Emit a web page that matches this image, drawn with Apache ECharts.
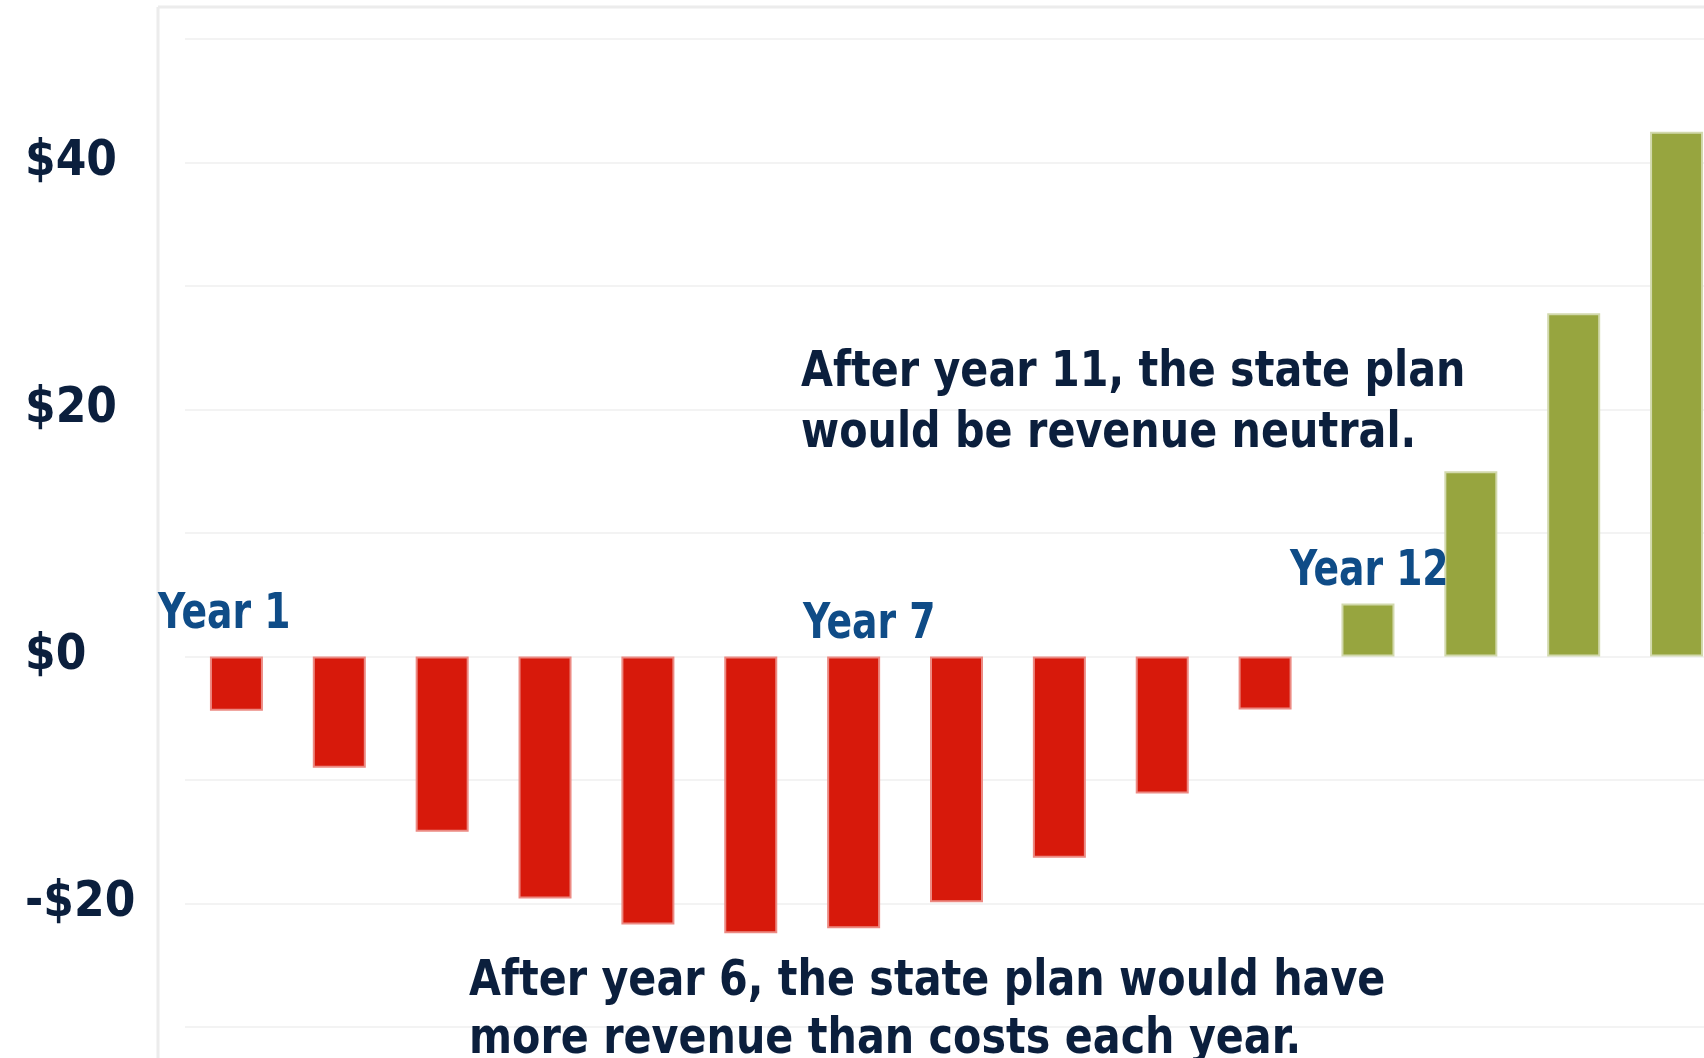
<!DOCTYPE html>
<html>
<head>
<meta charset="utf-8">
<script src="https://cdn.jsdelivr.net/npm/echarts@6/dist/echarts.min.js"></script>
<style>
html,body{margin:0;padding:0;background:#fff;}
#chart{width:1704px;height:1058px;}
</style>
</head>
<body>
<div id="chart"></div>
<script>
const categories = ['Year 1','Year 2','Year 3','Year 4','Year 5','Year 6','Year 7','Year 8','Year 9','Year 10','Year 11','Year 12','Year 13','Year 14','Year 15'];
const netValues = [-4.4, -9.0, -14.2, -19.6, -21.7, -22.4, -22.0, -19.9, -16.3, -11.1, -4.3, 4.3, 15.0, 27.8, 42.5];
const yTickLabels = {'40':'$40','20':'$20','0':'$0','-20':'-$20'};
const annotationNeutral = ['After year 11, the state plan','would be revenue neutral.'];
const annotationRevenue = ['After year 6, the state plan would have','more revenue than costs each year.'];
const yearMarks = ['Year 1','Year 7','Year 12'];

const FONT = '"DejaVu Sans Condensed", "DejaVu Sans", sans-serif';
const NAVY = '#0b1f3d';
const BLUE = '#0f4c87';
const RED = '#d7190b';
const GREEN = '#97a53f';

const chart = echarts.init(document.getElementById('chart'), null, {renderer:'canvas'});

function txt(x, yBase, s, color, size, scaleX) {
  return {
    type:'text', x:x, y:yBase - 0.3*size, scaleX: scaleX || 1, originX: 0,
    style:{text:s, fill:color, font:'bold '+size+'px '+FONT, textAlign:'left', textVerticalAlign:'middle'},
    z:10
  };
}

const barData = netValues.map(function(v){
  return {
    value:v,
    itemStyle:{
      color: v < 0 ? RED : GREEN,
      borderColor: v < 0 ? '#ec8a83' : '#d2d9ad',
      borderWidth: 2
    }
  };
});

chart.setOption({
  backgroundColor:'#ffffff',
  animation:false,
  grid:{left:185, top:39, width:1543, height:988, containLabel:false, outerBoundsMode:'none'},
  xAxis:{
    type:'category', data:categories,
    axisLine:{show:false}, axisTick:{show:false}, axisLabel:{show:false}, splitLine:{show:false}
  },
  yAxis:{
    type:'value', min:-30, max:50, interval:10,
    axisLine:{show:false}, axisTick:{show:false},
    splitLine:{show:true, lineStyle:{color:'#f3f3f3', width:2}},
    axisLabel:{
      show:true, align:'left', margin:160, padding:[0,0,8,0],
      fontFamily:FONT, fontWeight:'bold', fontSize:49, color:NAVY,
      formatter:function(v){ return yTickLabels[String(v)] || ''; }
    }
  },
  series:[{
    type:'bar', data:barData, barWidth:53,
    label:{show:false}
  }],
  graphic:[
    {type:'line', shape:{x1:158, y1:7, x2:1704, y2:7}, style:{stroke:'#ececec', lineWidth:3}, z:1},
    {type:'line', shape:{x1:158, y1:7, x2:158, y2:1058}, style:{stroke:'#ececec', lineWidth:3}, z:1},
    txt(158, 630, yearMarks[0], BLUE, 49, 0.855),
    txt(803, 640, yearMarks[1], BLUE, 49, 0.855),
    txt(1290, 587, yearMarks[2], BLUE, 49, 0.855),
    txt(801, 388, annotationNeutral[0], NAVY, 49, 0.937),
    txt(801, 449, annotationNeutral[1], NAVY, 49, 0.937),
    txt(469, 997, annotationRevenue[0], NAVY, 49, 0.937),
    txt(469, 1055, annotationRevenue[1], NAVY, 49, 0.937)
  ]
});
</script>
</body>
</html>
